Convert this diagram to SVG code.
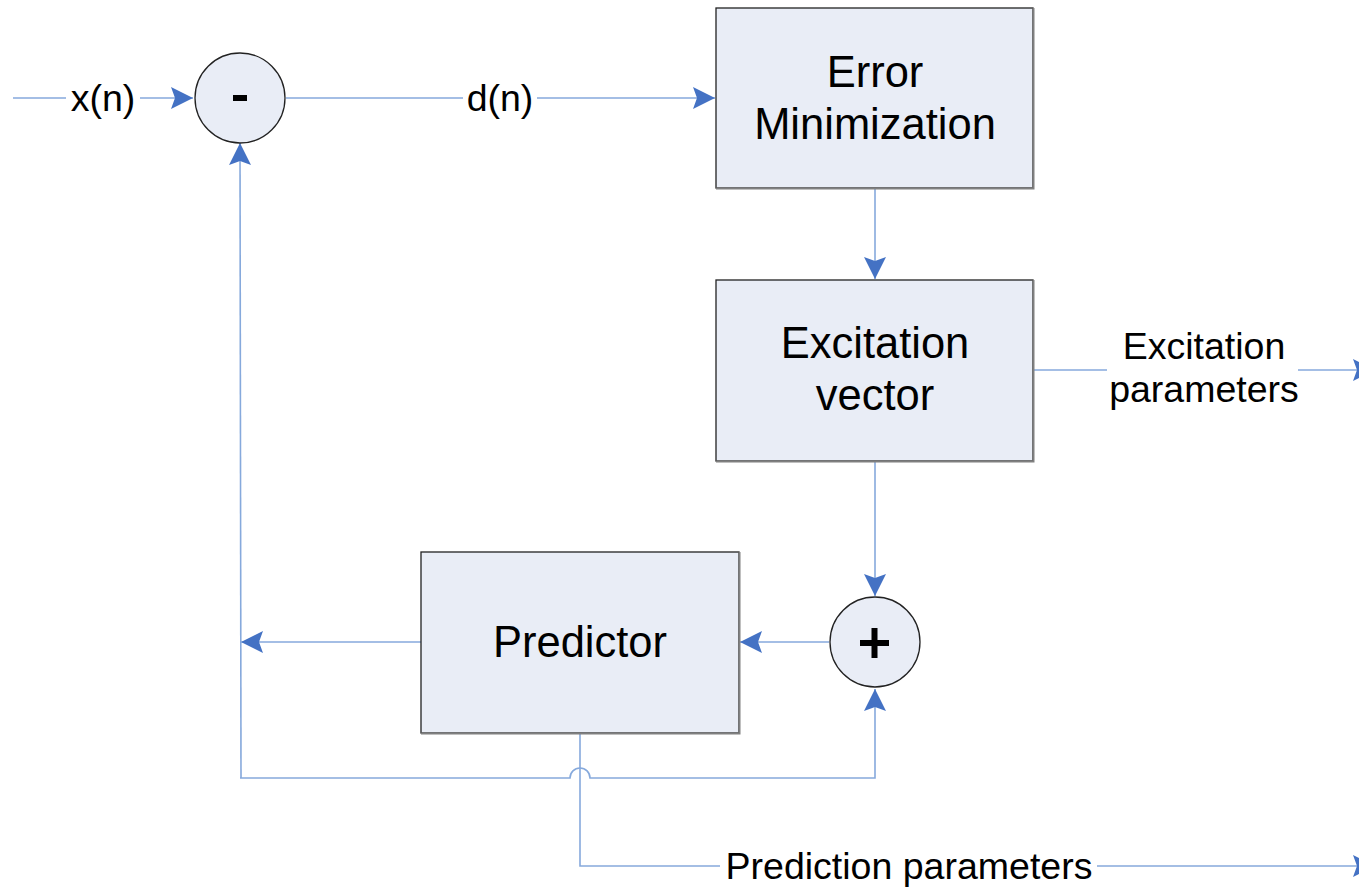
<svg xmlns="http://www.w3.org/2000/svg" width="1359" height="888" viewBox="0 0 1359 888">
<style>
.box{fill:#e9edf6;stroke:#222;stroke-width:1.3}
.sh{fill:none;stroke:#808080;stroke-width:2}
.ln{fill:none;stroke:#86a9dc;stroke-width:1.6}
.bt{font-family:"Liberation Sans",Arial,sans-serif;font-size:43.5px;fill:#000;text-anchor:middle}
.lb{font-family:"Liberation Sans",Arial,sans-serif;font-size:37.5px;fill:#000;text-anchor:middle}
.bg{fill:#fff}
</style>
<defs>
<marker id="ah" viewBox="0 0 22 22" refX="22" refY="11" markerWidth="22" markerHeight="22" markerUnits="userSpaceOnUse" orient="auto">
<path d="M0,0 L22,11 L0,22 L4,11 Z" fill="#4472c4"/>
</marker>
</defs>
<rect width="1359" height="888" fill="#fff"/>
<g id="connectors">
<line class="ln" x1="13" y1="98" x2="193" y2="98" marker-end="url(#ah)"/>
<line class="ln" x1="286" y1="98" x2="715" y2="98" marker-end="url(#ah)"/>
<line class="ln" x1="875" y1="189" x2="875" y2="279" marker-end="url(#ah)"/>
<line class="ln" x1="1034" y1="370" x2="1375" y2="370" marker-end="url(#ah)"/>
<line class="ln" x1="875" y1="462" x2="875" y2="596" marker-end="url(#ah)"/>
<line class="ln" x1="829" y1="642" x2="740" y2="642" marker-end="url(#ah)"/>
<line class="ln" x1="421" y1="642" x2="241" y2="642" marker-end="url(#ah)"/>
<path class="ln" d="M241,778 L240,143" marker-end="url(#ah)"/>
<path class="ln" d="M240,778 L570,778 A10,10 0 0 1 590,778 L875,778 L875,689" marker-end="url(#ah)"/>
<path class="ln" d="M580,734 L580,866 L1375,866" marker-end="url(#ah)"/>
</g>
<g id="labels">
<rect class="bg" x="66" y="78" width="74" height="42"/>
<text class="lb" x="103" y="111">x(n)</text>
<rect class="bg" x="463" y="78" width="74" height="42"/>
<text class="lb" x="500" y="111">d(n)</text>
<rect class="bg" x="1107" y="326" width="191" height="86"/>
<text class="lb" x="1204" y="359">Excitation</text>
<text class="lb" x="1204" y="402">parameters</text>
<rect class="bg" x="720" y="846" width="377" height="40"/>
<text class="lb" x="909" y="879">Prediction parameters</text>
</g>
<g id="minus">
<circle class="box" cx="240" cy="98" r="45"/>
<rect x="233" y="95" width="14" height="6" fill="#000"/>
</g>
<g id="error-min">
<rect class="box" x="716" y="8" width="317" height="180"/>
<path class="sh" d="M716,188.5 L1033.5,188.5 L1033.5,8"/>
<text class="bt" x="875" y="87">Error</text>
<text class="bt" x="875" y="139">Minimization</text>
</g>
<g id="excitation">
<rect class="box" x="716" y="280" width="317" height="181"/>
<path class="sh" d="M716,461.5 L1033.5,461.5 L1033.5,280"/>
<text class="bt" x="875" y="358">Excitation</text>
<text class="bt" x="875" y="410">vector</text>
</g>
<g id="predictor">
<rect class="box" x="421" y="552" width="318" height="181"/>
<path class="sh" d="M421,733.5 L739.5,733.5 L739.5,552"/>
<text class="bt" x="580" y="657">Predictor</text>
</g>
<g id="plus">
<circle class="box" cx="875" cy="642" r="45"/>
<rect x="860" y="640" width="29" height="6" fill="#000"/>
<rect x="871.5" y="628" width="6" height="30" fill="#000"/>
</g>
</svg>
